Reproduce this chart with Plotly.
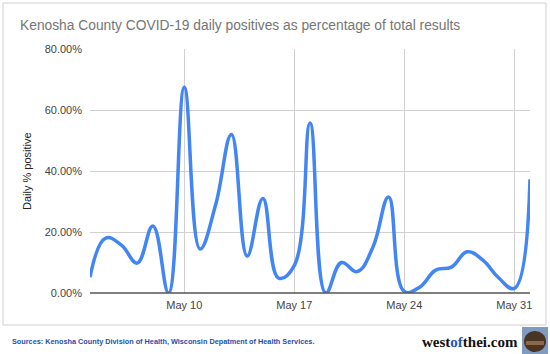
import plotly.graph_objects as go
import pandas as pd

dates = pd.date_range("2020-05-04", "2020-06-01", freq="D")
pct_positive = [5.2, 18.0, 15.7, 9.8, 22.0, 0.0, 67.5, 14.4, 29.0, 52.0, 12.1, 31.0, 4.9, 9.0,
                55.7, 0.0, 10.0, 7.0, 15.0, 31.5, 0.5, 2.0, 7.5, 8.5, 13.5, 10.8, 5.0, 1.5, 37.3]
y_ticks = [0, 20, 40, 60, 80]
y_tick_labels = ["0.00%", "20.00%", "40.00%", "60.00%", "80.00%"]
x_ticks = ["2020-05-10", "2020-05-17", "2020-05-24", "2020-05-31"]
x_tick_labels = ["May 10", "May 17", "May 24", "May 31"]

W, H = 550, 354
L, R, T, B = 90, 530, 49, 293
PW, PH = R - L, B - T

def px(x):
    return (x - L) / PW

def py(y):
    return (B - y) / PH

fig = go.Figure()
fig.add_trace(go.Scatter(
    x=dates, y=pct_positive, mode="lines",
    line=dict(color="#4285f4", width=3.5, shape="spline", smoothing=1.2),
    hoverinfo="skip", showlegend=False, cliponaxis=True,
))

font_family = "Liberation Sans, Arial, sans-serif"

fig.update_layout(
    width=W, height=H,
    margin=dict(l=L, r=W - R, t=T, b=H - B, pad=0),
    paper_bgcolor="white", plot_bgcolor="white",
    font=dict(family=font_family, size=11, color="#444444"),
    title=dict(text="Kenosha County COVID-19 daily positives as percentage of total results",
               x=20 / W, xanchor="left", xref="container",
               y=1 - 25 / H, yanchor="middle", yref="container",
               font=dict(family=font_family, size=13.8, color="#757575")),
    xaxis=dict(range=[dates[0], dates[-1]], tickvals=x_ticks, ticktext=x_tick_labels,
               showgrid=True, gridcolor="#d0d0d0", gridwidth=1, zeroline=False,
               showline=False, ticks="", tickfont=dict(size=11, color="#444444"),
               ticklabelstandoff=4, fixedrange=True),
    yaxis=dict(range=[0, 80], tickvals=y_ticks, ticktext=y_tick_labels,
               showgrid=True, gridcolor="#d0d0d0", gridwidth=1, zeroline=False,
               showline=False, ticks="", tickfont=dict(size=11, color="#444444"),
               ticklabelstandoff=7, fixedrange=True),
    shapes=[
        # outer frame
        dict(type="rect", xref="paper", yref="paper",
             x0=px(3), x1=px(546), y0=py(325), y1=py(3),
             line=dict(color="#cfcfcf", width=1), fillcolor="rgba(0,0,0,0)", layer="below"),
        # baseline
        dict(type="line", xref="paper", yref="paper", x0=0, x1=1, y0=0, y1=0,
             line=dict(color="#555555", width=1.3), layer="above"),
        # logo picture
        dict(type="rect", xref="paper", yref="paper",
             x0=px(522), x1=px(548), y0=py(354), y1=py(327),
             line=dict(width=0), fillcolor="#7f9cc0"),
        dict(type="circle", xref="paper", yref="paper",
             x0=px(524), x1=px(546), y0=py(352), y1=py(331),
             line=dict(width=0), fillcolor="#4a3424"),
        dict(type="rect", xref="paper", yref="paper",
             x0=px(526), x1=px(544), y0=py(345), y1=py(341),
             line=dict(width=0), fillcolor="#8a6a48"),
    ],
    annotations=[
        dict(text="Daily % positive", xref="paper", yref="paper",
             x=px(27), y=py(171), xanchor="center", yanchor="middle",
             textangle=-90, showarrow=False,
             font=dict(family=font_family, size=11, color="#222222")),
        dict(text="<b>Sources: Kenosha County Division of Health, Wisconsin Depatment of Health Services.</b>",
             xref="paper", yref="paper", x=px(10), y=py(341),
             xanchor="left", yanchor="middle", showarrow=False,
             font=dict(family=font_family, size=7.3, color="#1f4fa8")),
        dict(text="<b>west<span style='color:#1f55b0'>of</span>thei.com</b>",
             xref="paper", yref="paper", x=px(520), y=py(342),
             xanchor="right", yanchor="middle", showarrow=False,
             font=dict(family="Liberation Serif, Times New Roman, serif", size=15, color="#111111")),
    ],
)

fig.write_html("out.html")
